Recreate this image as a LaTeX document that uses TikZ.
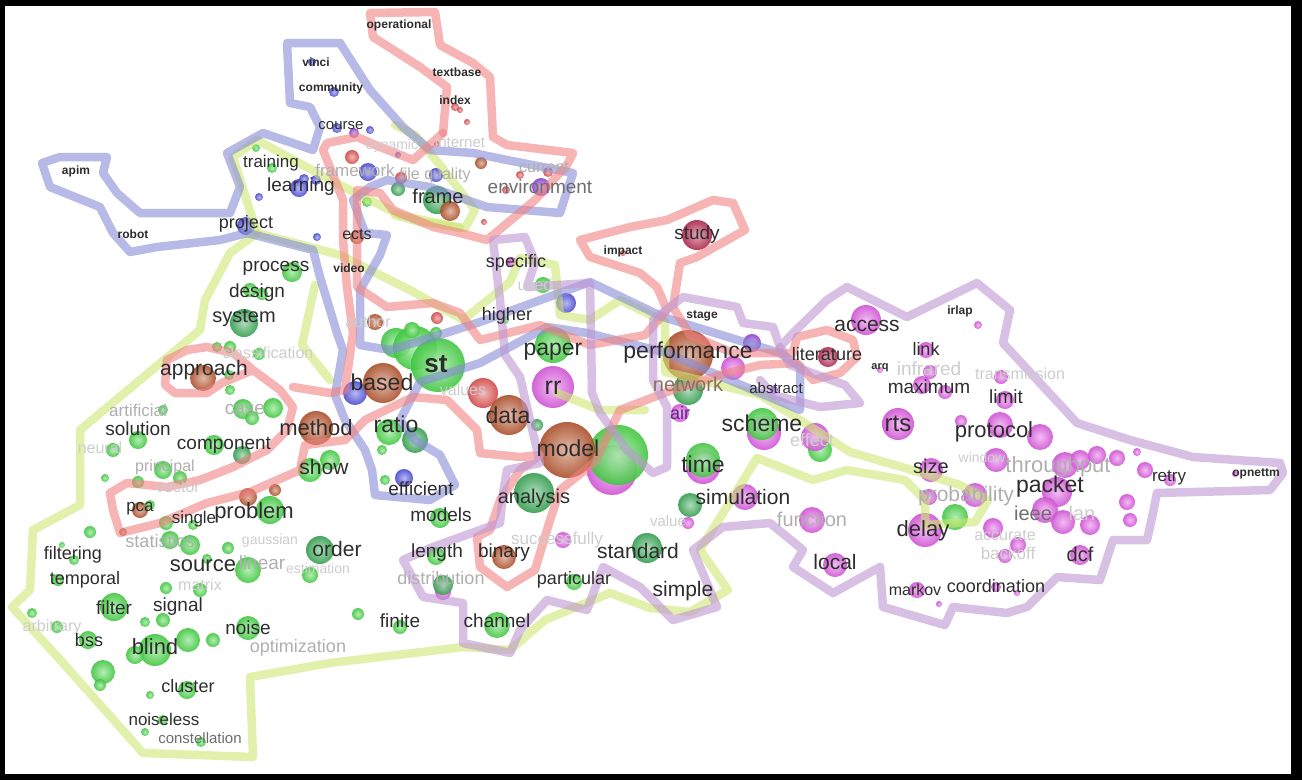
\documentclass[tikz,border=0pt]{standalone}
\usepackage{fontspec}
\setmainfont{Liberation Sans}
\newcommand\fs[1]{\fontsize{#1}{#1}\selectfont}
\newcommand\bub[4]{\shade[inner color=#4!45!white,outer color=#4!92!black,opacity=0.9] (#1,#2) circle (#3pt);}
\definecolor{cG}{RGB}{70,215,70}
\definecolor{cDG}{RGB}{55,170,85}
\definecolor{cM}{RGB}{225,90,230}
\definecolor{cB}{RGB}{185,85,45}
\definecolor{cR}{RGB}{225,80,80}
\definecolor{cBL}{RGB}{80,80,225}
\definecolor{cP}{RGB}{150,70,220}
\definecolor{cC}{RGB}{185,40,80}
\definecolor{hG}{RGB}{205,230,115}
\definecolor{hB}{RGB}{135,140,215}
\definecolor{hR}{RGB}{240,130,130}
\definecolor{hP}{RGB}{190,150,210}
\definecolor{txt}{RGB}{45,45,45}
\definecolor{gtx}{RGB}{175,175,175}
\definecolor{ltx}{RGB}{205,205,205}
\definecolor{mtx}{RGB}{110,110,110}
\definecolor{ntx}{RGB}{140,110,95}
\tikzset{
  hull/.style={line width=8.5pt,line join=round,line cap=round,opacity=0.6},
  w/.style={inner sep=0pt,text=txt},
  ws/.style={inner sep=0pt,text=txt,font=\fs{12}\bfseries},
  g/.style={inner sep=0pt,text=gtx},
  lg/.style={inner sep=0pt,text=ltx},
  mg/.style={inner sep=0pt,text=mtx}
}
\begin{document}
\begin{tikzpicture}[x=1pt,y=-1pt]
\useasboundingbox (0,0) rectangle (1302,780);
\fill[black] (0,0) rectangle (1302,780);
\fill[white] (5,6) rectangle (1291,774);
% ---------------- bubbles ----------------
\bub{312}{62}{4}{cBL}\bub{334}{92}{5}{cBL}
\bub{337}{128}{5}{cBL}\bub{354}{133}{5}{cP}\bub{370}{130}{4}{cBL}
\bub{256}{148}{4}{cG}\bub{272}{168}{5}{cG}
\bub{299}{188}{9}{cBL}\bub{304}{179}{5}{cBL}\bub{316}{180}{5}{cBL}
\bub{259}{197}{4}{cBL}\bub{246}{226}{9}{cBL}\bub{317}{237}{4}{cBL}
\bub{352}{157}{7}{cR}\bub{368}{172}{9}{cBL}\bub{398}{189}{7}{cDG}\bub{367}{202}{5}{cG}
\bub{398}{155}{3}{cBL}\bub{436}{175}{7}{cBL}\bub{437}{144}{3}{cR}\bub{401}{178}{6}{cR}
\bub{481}{163}{6}{cB}\bub{455}{107}{4}{cR}\bub{467}{122}{3}{cR}\bub{460}{110}{3}{cR}
\bub{520}{175}{4}{cR}\bub{506}{190}{4}{cR}\bub{541}{187}{9}{cP}\bub{548}{172}{5}{cR}
\bub{437}{200}{14}{cDG}\bub{450}{211}{10}{cB}\bub{484}{222}{3}{cR}\bub{357}{237}{7}{cB}
\bub{292}{272}{10}{cG}\bub{250}{290}{7}{cG}\bub{262}{294}{6}{cG}\bub{244}{323}{14}{cDG}
\bub{217}{347}{5}{cG}\bub{230}{347}{6}{cG}\bub{259}{354}{6}{cG}
\bub{203}{378}{13}{cB}\bub{229}{375}{5}{cG}\bub{230}{390}{5}{cG}
\bub{163}{410}{5}{cG}\bub{243}{409}{10}{cG}\bub{252}{418}{7}{cG}\bub{273}{408}{10}{cG}
\bub{138}{440}{9}{cG}\bub{113}{450}{7}{cG}\bub{214}{445}{10}{cG}\bub{242}{455}{9}{cDG}
\bub{163}{470}{9}{cG}\bub{180}{478}{7}{cG}\bub{138}{482}{6}{cG}\bub{105}{478}{4}{cG}
\bub{140}{510}{8}{cB}\bub{150}{505}{5}{cG}\bub{123}{532}{4}{cB}
\bub{270}{510}{14}{cG}\bub{248}{497}{9}{cB}\bub{275}{490}{6}{cB}
\bub{166}{523}{7}{cG}\bub{193}{525}{5}{cG}
\bub{316}{428}{17}{cB}\bub{310}{470}{12}{cG}\bub{330}{460}{10}{cG}
\bub{389}{432}{13}{cG}\bub{415}{440}{13}{cDG}\bub{382}{450}{5}{cG}
\bub{404}{478}{9}{cBL}\bub{385}{480}{5}{cG}
\bub{440}{518}{10}{cG}\bub{436}{556}{9}{cG}\bub{443}{592}{8}{cM}\bub{443}{585}{10}{cDG}
\bub{504}{557}{12}{cB}\bub{563}{540}{8}{cM}\bub{574}{582}{8}{cG}\bub{647}{548}{15}{cDG}
\bub{497}{625}{13}{cG}\bub{400}{627}{7}{cG}\bub{358}{614}{6}{cG}
\bub{62}{545}{3}{cG}\bub{90}{532}{6}{cG}\bub{74}{560}{5}{cG}\bub{58}{580}{6}{cG}
\bub{114}{607}{14}{cG}\bub{32}{613}{5}{cG}\bub{57}{627}{6}{cG}\bub{88}{640}{9}{cG}
\bub{145}{622}{5}{cG}\bub{163}{620}{7}{cG}\bub{155}{650}{16}{cG}\bub{135}{655}{9}{cG}
\bub{188}{640}{12}{cG}\bub{213}{640}{7}{cG}\bub{248}{628}{12}{cG}
\bub{103}{672}{12}{cG}\bub{100}{685}{6}{cG}\bub{150}{695}{4}{cG}\bub{187}{690}{9}{cG}
\bub{163}{720}{5}{cG}\bub{145}{732}{4}{cG}\bub{201}{742}{5}{cG}
\bub{190}{545}{10}{cG}\bub{170}{540}{9}{cG}\bub{228}{548}{6}{cG}\bub{248}{570}{13}{cG}
\bub{320}{550}{14}{cDG}\bub{310}{575}{8}{cG}\bub{207}{559}{5}{cG}\bub{166}{588}{6}{cG}\bub{200}{590}{7}{cG}
\bub{396}{343}{15}{cG}\bub{415}{348}{22}{cG}\bub{438}{365}{27}{cG}\bub{412}{330}{8}{cG}
\bub{437}{318}{6}{cR}\bub{436}{333}{6}{cG}
\bub{355}{393}{12}{cBL}\bub{383}{383}{20}{cB}\bub{375}{322}{8}{cB}
\bub{483}{393}{15}{cR}\bub{509}{415}{20}{cB}\bub{537}{425}{6}{cDG}
\bub{553}{345}{18}{cG}\bub{553}{387}{21}{cM}
\bub{612}{470}{25}{cM}\bub{618}{455}{30}{cG}\bub{567}{450}{28}{cB}
\bub{534}{493}{20}{cDG}
\bub{566}{303}{10}{cBL}\bub{543}{285}{8}{cG}\bub{512}{262}{5}{cM}\bub{505}{320}{4}{cG}
\bub{688}{390}{15}{cDG}\bub{688}{355}{25}{cB}\bub{733}{368}{12}{cM}\bub{752}{343}{9}{cP}
\bub{680}{413}{9}{cM}
\bub{764}{433}{17}{cM}\bub{762}{424}{16}{cG}
\bub{820}{450}{12}{cG}\bub{815}{437}{14}{cM}
\bub{703}{467}{17}{cM}\bub{703}{460}{17}{cG}
\bub{690}{505}{12}{cDG}\bub{688}{523}{6}{cM}\bub{745}{497}{13}{cM}
\bub{812}{520}{13}{cM}\bub{835}{565}{12}{cM}
\bub{697}{235}{15}{cC}\bub{623}{253}{3}{cR}\bub{828}{357}{10}{cC}\bub{774}{390}{4}{cP}
\bub{866}{320}{15}{cM}\bub{978}{325}{4}{cM}\bub{926}{350}{8}{cM}\bub{930}{372}{7}{cM}\bub{880}{370}{3}{cM}
\bub{922}{385}{9}{cM}\bub{945}{392}{7}{cM}\bub{1001}{377}{7}{cM}\bub{1005}{400}{9}{cM}
\bub{898}{424}{16}{cM}\bub{961}{421}{6}{cM}\bub{1040}{437}{13}{cM}\bub{1000}{425}{13}{cM}
\bub{996}{460}{12}{cM}\bub{1065}{465}{13}{cM}\bub{1080}{460}{10}{cM}\bub{1097}{455}{9}{cM}\bub{1117}{458}{8}{cM}
\bub{1127}{502}{8}{cM}\bub{1090}{525}{10}{cM}\bub{1130}{520}{7}{cM}
\bub{1057}{492}{15}{cM}\bub{1045}{510}{13}{cM}\bub{1063}{522}{12}{cM}
\bub{931}{470}{12}{cM}\bub{929}{497}{8}{cM}\bub{975}{495}{12}{cM}
\bub{955}{517}{13}{cG}\bub{925}{530}{17}{cM}
\bub{993}{528}{10}{cM}\bub{1018}{545}{8}{cM}\bub{1005}{556}{7}{cM}
\bub{1080}{555}{10}{cM}\bub{917}{590}{8}{cM}\bub{939}{604}{3}{cM}\bub{996}{587}{5}{cM}\bub{1017}{593}{3}{cM}
\bub{1137}{452}{4}{cM}\bub{1145}{470}{8}{cM}\bub{1170}{480}{6}{cM}\bub{1235}{474}{3}{cM}
% ---------------- hulls ----------------
% green
\draw[hull,hG] (230,253) -- (205,300) -- (200,330) -- (80,430) -- (80,505) -- (33,530) -- (30,590) -- (12,607) -- (63,663) -- (143,753) -- (253,757) -- (250,677) -- (330,663) -- (463,647) -- (510,650) -- (545,620) -- (610,593) -- (650,608) -- (690,612) -- (728,590) -- (700,550) -- (757,458) -- (813,480) -- (847,470) -- (905,480) -- (925,500) -- (925,525) -- (975,522) -- (988,500) -- (960,485) -- (905,468) -- (850,452) -- (800,420) -- (760,395) -- (700,380) -- (665,372) -- (665,322) -- (620,300) -- (590,320) -- (560,315) -- (555,265) -- (520,258) -- (510,282) -- (463,320) -- (410,290) -- (340,255) -- (257,233) -- cycle;
\draw[hull,hG] (257,233) -- (233,157) -- (257,140) -- (330,180) -- (400,215) -- (460,228);
\draw[hull,hG] (395,125) -- (415,135) -- (440,165) -- (475,210) -- (465,228) -- (420,222) -- (395,215);
\draw[hull,hG] (315,285) -- (302,345) -- (330,380);
\draw[hull,hG] (557,393) -- (600,410) -- (645,410);
% blue
\draw[hull,hB] (42,163) -- (60,157) -- (107,157) -- (103,173) -- (117,193) -- (140,213) -- (230,213) -- (240,187) -- (227,153) -- (263,133) -- (313,150) -- (320,127) -- (310,107) -- (290,103) -- (287,43) -- (340,43) -- (370,90) -- (403,127) -- (430,150) -- (473,153) -- (507,160) -- (573,173) -- (560,213) -- (487,207) -- (430,187) -- (387,180) -- (370,187) -- (353,200) -- (365,233) -- (387,235) -- (380,255) -- (360,290) -- (360,345) -- (390,350) -- (430,338) -- (480,322) -- (590,282) -- (663,317) -- (780,353) -- (800,367) -- (800,410) -- (713,373) -- (667,353) -- (587,333) -- (547,327) -- (480,363) -- (420,382) -- (400,420) -- (415,440) -- (440,455) -- (455,485) -- (430,500) -- (375,495) -- (372,470) -- (365,450) -- (345,420) -- (335,395) -- (343,350) -- (337,333) -- (327,300) -- (320,277) -- (313,250) -- (247,233) -- (220,240) -- (157,247) -- (130,252) -- (113,233) -- (100,207) -- (50,187) -- cycle;
% red
\draw[hull,hR] (443,133) -- (447,87) -- (420,67) -- (373,37) -- (370,13) -- (435,12) -- (440,45) -- (473,63) -- (490,77) -- (493,137) -- (507,145) -- (573,153) -- (567,165) -- (535,200) -- (487,240) -- (460,233) -- (433,227) -- (393,210) -- (380,193) -- (357,190) -- (357,287) -- (387,307) -- (433,303) -- (460,313) -- (480,340) -- (540,325) -- (590,345) -- (645,335) -- (667,310) -- (657,287) -- (640,273) -- (590,257) -- (580,240) -- (630,227) -- (667,220) -- (713,200) -- (733,203) -- (745,230) -- (697,257) -- (680,263) -- (673,307) -- (690,335) -- (733,353) -- (793,353) -- (797,337) -- (827,330) -- (853,340) -- (857,357) -- (840,373) -- (813,380) -- (797,363) -- (760,365) -- (720,375) -- (667,392) -- (620,410) -- (595,462) -- (560,490) -- (550,520) -- (535,570) -- (507,587) -- (480,567) -- (477,537) -- (490,530) -- (500,500) -- (520,470) -- (540,455) -- (520,457) -- (480,453) -- (477,430) -- (447,400) -- (413,397) -- (365,420) -- (345,440) -- (305,445) -- (300,470) -- (250,492) -- (207,503) -- (160,523) -- (120,533) -- (113,510) -- (110,493) -- (127,483) -- (167,487) -- (200,480) -- (233,467) -- (267,450) -- (287,430) -- (293,407) -- (280,390) -- (253,370) -- (233,353) -- (207,347) -- (187,350) -- (167,360) -- (165,385) -- (175,393) -- (207,393) -- (222,383) -- (253,370);
\draw[hull,hR] (443,133) -- (413,160) -- (380,147) -- (357,137) -- (327,143) -- (323,150) -- (343,200) -- (343,240) -- (347,287) -- (353,333) -- (345,390) -- (330,393) -- (293,387);
% purple
\draw[hull,hP] (493,240) -- (525,237) -- (535,262) -- (527,287) -- (590,283) -- (592,393) -- (600,413) -- (627,450) -- (653,473) -- (667,467) -- (667,407) -- (653,380) -- (653,320) -- (683,297) -- (737,307) -- (743,323) -- (773,327) -- (780,347) -- (793,333) -- (827,300) -- (847,287) -- (907,317) -- (977,283) -- (1010,310) -- (1003,343) -- (1077,423) -- (1130,440) -- (1193,457) -- (1280,463) -- (1283,473) -- (1270,490) -- (1157,493) -- (1153,513) -- (1147,540) -- (1113,540) -- (1100,580) -- (1057,577) -- (1027,607) -- (1007,613) -- (953,607) -- (945,625) -- (883,607) -- (880,567) -- (833,593) -- (793,567) -- (803,550) -- (770,523) -- (723,527) -- (693,550) -- (717,607) -- (673,620) -- (640,587) -- (603,567) -- (587,610) -- (547,600) -- (520,630) -- (510,653) -- (463,643) -- (463,603) -- (423,597) -- (403,560) -- (433,547) -- (480,530) -- (500,523) -- (503,493) -- (507,470) -- (540,463) -- (520,377) -- (505,355) -- (500,300) -- cycle;
\draw[hull,hP] (780,347) -- (790,365) -- (845,385) -- (860,403) -- (820,407) -- (773,395) -- (760,380);
% ---------------- words ----------------
\node[ws] (apim) at (76,171) {apim};
\node[ws] (robot) at (133,234) {robot};
\node[ws] (vinci) at (316,62) {vinci};
\node[ws] (community) at (331,88) {community};
\node[ws] (operational) at (399,25) {operational};
\node[ws] (textbase) at (457,72) {textbase};
\node[ws] (index) at (455,100) {index};
\node[ws] (impact) at (623,251) {impact};
\node[ws] (stage) at (702,316) {stage};
\node[ws] (irlap) at (960,311) {irlap};
\node[ws] (opnettm) at (1256,474) {opnettm};
\node[ws,font=\fs{11}\bfseries] (arq) at (880,368) {arq};
\node[ws] (video) at (349,268) {video};
\node[g,font=\fs{17}] (framework) at (355,170) {framework};
\node[g,font=\fs{16}] (filequality) at (435,175) {file quality};
\node[g,font=\fs{16}] (current) at (544,167) {current};
\node[lg,font=\fs{15}] (internet) at (460,142) {internet};
\node[lg,font=\fs{14}] (dynamic) at (392,146) {dynamic};
\node[lg,font=\fs{16}] (classification) at (268,353) {classification};
\node[g,font=\fs{17}] (artificial) at (138,410) {artificial};
\node[g,font=\fs{19}] (case) at (245,409) {case};
\node[lg,font=\fs{16}] (neural) at (100,448) {neural};
\node[g,font=\fs{16}] (principal) at (165,467) {principal};
\node[lg,font=\fs{16}] (vector) at (178,487) {vector};
\node[g,font=\fs{18}] (statistics) at (160,541) {statistics};
\node[lg,font=\fs{14}] (gaussian) at (270,541) {gaussian};
\node[g,font=\fs{19}] (linear) at (262,563) {linear};
\node[lg,font=\fs{14}] (estimation) at (318,568) {estimation};
\node[g,font=\fs{18}] (distribution) at (441,578) {distribution};
\node[lg,font=\fs{17}] (successfully) at (557,540) {successfully};
\node[lg,font=\fs{16}] (matrix) at (200,585) {matrix};
\node[lg,font=\fs{16}] (arbitrary) at (52,627) {arbitrary};
\node[g,font=\fs{18}] (optimization) at (298,648) {optimization};
\node[lg,font=\fs{15}] (value) at (668,521) {value};
\node[g,font=\fs{20}] (function) at (812,519) {function};
\node[lg,font=\fs{17}] (backoff) at (1008,553) {backoff};
\node[lg,font=\fs{16}] (accurate) at (1005,535) {accurate};
\node[g,font=\fs{21}] (probability) at (966,496) {probability};
\node[mg,font=\fs{20}] (ieee) at (1033,513) {ieee};
\node[lg,font=\fs{20}] (lan) at (1082,513) {lan};
\node[g,font=\fs{22}] (throughput) at (1058,467) {throughput};
\node[lg,font=\fs{14}] (window) at (982,457) {window};
\node[lg,font=\fs{16}] (transmission) at (1020,374) {transmission};
\node[lg,font=\fs{19}] (infrared) at (929,369) {infrared};
\node[lg,font=\fs{18}] (effect) at (812,440) {effect};
\node[lg,font=\fs{16}] (used) at (535,285) {used};
\node[lg,font=\fs{16}] (author) at (368,322) {author};
\node[lg,font=\fs{16}] (values) at (463,390) {values};
\node[w,font=\fs{15}] (course) at (341,126) {course};
\node[w,font=\fs{17}] (training) at (271,163) {training};
\node[w,font=\fs{19}] (learning) at (301,187) {learning};
\node[w,font=\fs{18}] (project) at (246,224) {project};
\node[w,font=\fs{20}] (frame) at (438,196) {frame};
\node[mg,font=\fs{19}] (environment) at (540,187) {environment};
\node[w,font=\fs{16}] (ects) at (357,234) {ects};
\node[w,font=\fs{19}] (process) at (276,268) {process};
\node[w,font=\fs{19}] (design) at (257,293) {design};
\node[w,font=\fs{20}] (system) at (244,318) {system};
\node[w,font=\fs{21}] (approach) at (204,370) {approach};
\node[w,font=\fs{19}] (solution) at (138,429) {solution};
\node[w,font=\fs{19}] (component) at (224,445) {component};
\node[w,font=\fs{22}] (method) at (316,428) {method};
\node[w,font=\fs{23}] (ratio) at (396,424) {ratio};
\node[w,font=\fs{21}] (show) at (324,467) {show};
\node[w,font=\fs{17}] (pca) at (140,509) {pca};
\node[w,font=\fs{17}] (single) at (194,519) {single};
\node[w,font=\fs{22}] (problem) at (254,513) {problem};
\node[w,font=\fs{19}] (efficient) at (421,489) {efficient};
\node[w,font=\fs{19}] (models) at (441,515) {models};
\node[w,font=\fs{18}] (filtering) at (73,555) {filtering};
\node[w,font=\fs{22}] (source) at (203,566) {source};
\node[w,font=\fs{21}] (order) at (337,549) {order};
\node[w,font=\fs{19}] (length) at (437,553) {length};
\node[w,font=\fs{19}] (binary) at (504,553) {binary};
\node[w,font=\fs{21}] (standard) at (638,551) {standard};
\node[w,font=\fs{18}] (particular) at (574,580) {particular};
\node[w,font=\fs{18}] (temporal) at (85,580) {temporal};
\node[w,font=\fs{19}] (filter) at (114,608) {filter};
\node[w,font=\fs{19}] (signal) at (178,607) {signal};
\node[w,font=\fs{19}] (noise) at (248,628) {noise};
\node[w,font=\fs{18}] (bss) at (89,640) {bss};
\node[w,font=\fs{22}] (blind) at (155,647) {blind};
\node[w,font=\fs{19}] (finite) at (400,621) {finite};
\node[w,font=\fs{19}] (channel) at (497,621) {channel};
\node[w,font=\fs{18}] (cluster) at (188,686) {cluster};
\node[w,font=\fs{17}] (noiseless) at (164,719) {noiseless};
\node[mg,font=\fs{15}] (constellation) at (200,738) {constellation};
\node[w,font=\fs{21}] (simple) at (683,591) {simple};
\node[w,font=\fs{21}] (simulation) at (743,497) {simulation};
\node[w,font=\fs{23}] (time) at (703,464) {time};
\node[w,font=\fs{21}] (local) at (835,562) {local};
\node[w,font=\fs{16}] (markov) at (915,590) {markov};
\node[w,font=\fs{18}] (coordination) at (996,586) {coordination};
\node[w,font=\fs{20}] (dcf) at (1080,554) {dcf};
\node[w,font=\fs{22}] (delay) at (923,531) {delay};
\node[w,font=\fs{23}] (packet) at (1050,487) {packet};
\node[w,font=\fs{20}] (size) at (931,466) {size};
\node[w,font=\fs{22}] (protocol) at (994,432) {protocol};
\node[w,font=\fs{24}] (rts) at (898,424) {rts};
\node[w,font=\fs{19}] (limit) at (1006,397) {limit};
\node[w,font=\fs{19}] (maximum) at (929,387) {maximum};
\node[w,font=\fs{18}] (link) at (926,349) {link};
\node[w,font=\fs{21}] (access) at (867,326) {access};
\node[w,font=\fs{17}] (retry) at (1169,478) {retry};
\node[w,font=\fs{18}] (literature) at (827,354) {literature};
\node[w,font=\fs{15}] (abstract) at (776,388) {abstract};
\node[w,font=\fs{23}] (performance) at (688,353) {performance};
\node[w,font=\fs{19}] (study) at (697,235) {study};
\node[w,font=\fs{18}] (specific) at (516,263) {specific};
\node[w,font=\fs{18}] (higher) at (507,316) {higher};
\node[w,font=\fs{23}] (paper) at (553,352) {paper};
\node[w,font=\fs{25}] (rr) at (553,388) {rr};
\node[w,font=\fs{23}] (data) at (508,415) {data};
\node[w,font=\fs{23}] (model) at (568,448) {model};
\node[w,font=\fs{20}] (analysis) at (534,498) {analysis};
\node[w,font=\fs{26}\bfseries] (st) at (436,364) {st};
\node[w,font=\fs{23}] (based) at (382,382) {based};
\node[w,font=\fs{23}] (scheme) at (762,423) {scheme};
\node[w,font=\fs{18},text=cP!60!black] (air) at (680,413) {air};
\node[w,font=\fs{20},text=ntx] (network) at (688,384) {network};
\end{tikzpicture}
\end{document}
